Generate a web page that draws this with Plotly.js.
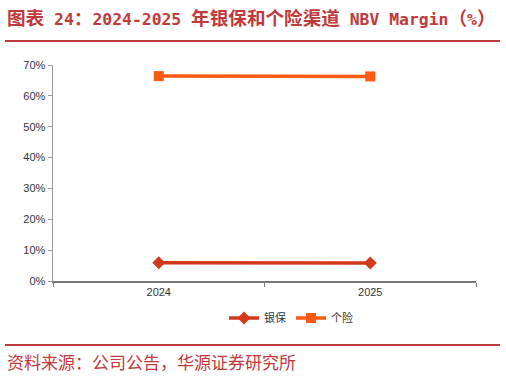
<!DOCTYPE html>
<html>
<head>
<meta charset="utf-8">
<script src="https://cdn.plot.ly/plotly-3.0.1.min.js"></script>
<style>html,body{margin:0;padding:0;background:#fff;}#chart{width:506px;height:378px;}</style>
</head>
<body>
<div id="chart"></div>
<script>
const years = ['2024', '2025'];
const bankValues = [5.9, 5.8];
const agentValues = [66.4, 66.3];
const seriesNames = ['银保', '个险'];
const yTickVals = [0, 10, 20, 30, 40, 50, 60, 70];
const yTickText = ['0%', '10%', '20%', '30%', '40%', '50%', '60%', '70%'];
const titleText = '图表 24：2024-2025 年银保和个险渠道 NBV Margin（%）';
const sourceText = '资料来源：公司公告，华源证券研究所';

const L = 53, R = 476, T = 65, B = 281;
const W = R - L, H = B - T;
const px = v => (v - L) / W;
const py = v => (B - v) / H;
const red = '#c0393b';

// Latin runs (with their spaces) in a monospace face, CJK in the CJK face
const titleHtml = titleText.replace(/([ A-Za-z0-9\-%]+)/g,
  '<span style="font-family:DejaVu Sans Mono;font-size:16.4px">$1</span>');

const traces = [
  {x: years, y: bankValues, name: seriesNames[0], type: 'scatter', mode: 'lines+markers',
   line: {color: '#d4381c', width: 3.5}, marker: {symbol: 'diamond', size: 10, color: '#d4381c'}},
  {x: years, y: agentValues, name: seriesNames[1], type: 'scatter', mode: 'lines+markers',
   line: {color: '#fd5a14', width: 3.5}, marker: {symbol: 'square', size: 10, color: '#fd5a14'}}
];

const layout = {
  width: 506, height: 378,
  margin: {l: L, r: 506 - R, t: T, b: 378 - B},
  paper_bgcolor: '#fff', plot_bgcolor: '#fff',
  showlegend: true,
  font: {family: 'Liberation Sans, Arial, sans-serif', size: 11, color: '#333'},
  xaxis: {type: 'category', range: [-0.5, 1.5], showgrid: false, zeroline: false, showline: true,
          linecolor: '#777', linewidth: 1.5, ticks: 'outside', tickson: 'boundaries',
          ticklen: 4, tickcolor: '#777', tickfont: {size: 11, color: '#333'}, fixedrange: true},
  yaxis: {range: [0, 70], tickvals: yTickVals, ticktext: yTickText, showgrid: false, zeroline: false,
          showline: true, linecolor: '#999', linewidth: 1.5, ticks: 'outside', ticklen: 4,
          tickcolor: '#999', tickfont: {size: 11, color: '#333'}, fixedrange: true},
  legend: {orientation: 'h', x: px(291), xanchor: 'center', y: py(318), yanchor: 'middle',
           font: {family: 'Noto Sans CJK SC', size: 11, color: '#333'}, itemwidth: 30, tracegroupgap: 0},
  annotations: [
    {text: '<b>' + titleHtml + '</b>', xref: 'paper', yref: 'paper', x: px(5), y: py(17),
     xanchor: 'left', yanchor: 'middle', showarrow: false,
     font: {family: 'Noto Sans CJK SC', size: 18.6, color: red}},
    {text: sourceText, xref: 'paper', yref: 'paper', x: px(5), y: py(361),
     xanchor: 'left', yanchor: 'middle', showarrow: false,
     font: {family: 'Noto Sans CJK SC', size: 17, color: red}}
  ],
  shapes: [
    {type: 'line', xref: 'paper', yref: 'paper', x0: px(5), x1: px(500), y0: py(41), y1: py(41),
     line: {color: red, width: 2}},
    {type: 'line', xref: 'paper', yref: 'paper', x0: px(5), x1: px(500), y0: py(345), y1: py(345),
     line: {color: red, width: 2}}
  ]
};

Plotly.newPlot('chart', traces, layout, {staticPlot: true, displayModeBar: false});
</script>
</body>
</html>
